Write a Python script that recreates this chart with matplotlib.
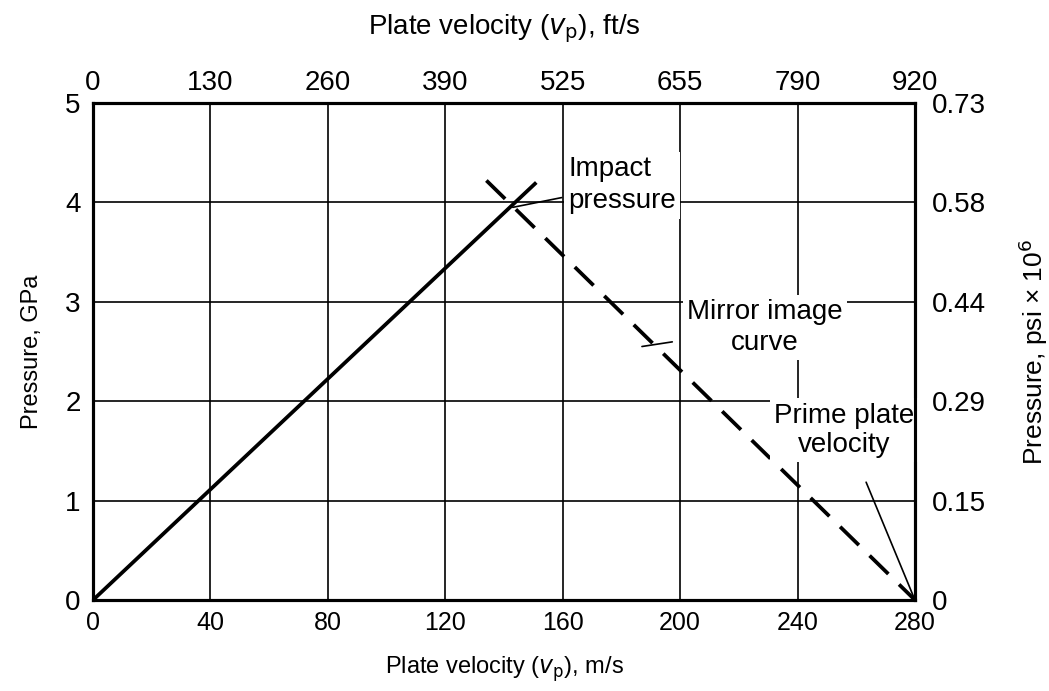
import matplotlib.pyplot as plt

plt.rcParams['font.family'] = ['Liberation Sans', 'DejaVu Sans']

# Axis ticks (bottom m/s, top ft/s, left GPa, right psi x 10^6)
x_ticks = [0, 40, 80, 120, 160, 200, 240, 280]
top_labels = ['0', '130', '260', '390', '525', '655', '790', '920']
y_ticks = [0, 1, 2, 3, 4, 5]
right_labels = ['0', '0.15', '0.29', '0.44', '0.58', '0.73']

# Curves
solid_x = [0, 151]
solid_y = [0, 4.2]
mirror_x = [134, 280]
mirror_y = [4.22, 0]
impact = (143, 3.95)
prime = (280, 0)

fig = plt.figure(figsize=(10.49, 6.91), dpi=100)
ax = fig.add_axes([0.0887, 0.1317, 0.7835, 0.7193])

ax.set_xlim(0, 280)
ax.set_ylim(0, 5)
ax.set_xticks(x_ticks)
ax.set_yticks(y_ticks)
ax.grid(True, color='black', linewidth=1.2)
ax.tick_params(axis='x', length=0, labelsize=18, pad=8)
ax.tick_params(axis='y', length=0, labelsize=20, pad=9)
for sp in ax.spines.values():
    sp.set_linewidth(2.2)

ax.plot(solid_x, solid_y, color='black', linewidth=2.7, solid_capstyle='butt', zorder=4)
ax.plot(mirror_x, mirror_y, color='black', linewidth=2.7, dashes=(7, 4), zorder=4)

box = dict(facecolor='white', edgecolor='none', pad=3)
ax.annotate('Impact\npressure', xy=impact, xytext=(162, 4.17), fontsize=20,
            ha='left', va='center', linespacing=1.3, bbox=box, zorder=5,
            arrowprops=dict(arrowstyle='-', color='black', lw=1.2, shrinkA=2, shrinkB=0))
ax.annotate('Mirror image\ncurve', xy=(187, 2.55), xytext=(229, 2.74), fontsize=20,
            ha='center', va='center', linespacing=1.25, bbox=box, zorder=5,
            arrowprops=dict(arrowstyle='-', color='black', lw=1.2, shrinkA=8, shrinkB=0))
ax.annotate('Prime plate\nvelocity', xy=prime, xytext=(256, 1.71), fontsize=20,
            ha='center', va='center', linespacing=1.15, bbox=box, zorder=5,
            arrowprops=dict(arrowstyle='-', color='black', lw=1.2, shrinkA=16, shrinkB=0))

ax.set_xlabel('Plate velocity ($v_{\\rm p}$), m/s', fontsize=17, labelpad=14)
ax.set_ylabel('Pressure, GPa', fontsize=17, labelpad=16)

top = ax.twiny()
top.set_xlim(ax.get_xlim())
top.set_xticks(x_ticks)
top.set_xticklabels(top_labels)
top.tick_params(length=0, labelsize=20, pad=5)
top.set_xlabel('Plate velocity ($v_{\\rm p}$), ft/s', fontsize=20, labelpad=26)

right = ax.twinx()
right.set_ylim(ax.get_ylim())
right.set_yticks(y_ticks)
right.set_yticklabels(right_labels)
right.tick_params(length=0, labelsize=20, pad=12)
right.set_ylabel('Pressure, psi × 10$^6$', fontsize=19, labelpad=22)
for a in (top, right):
    for sp in a.spines.values():
        sp.set_linewidth(2.2)

fig.savefig('out.png', dpi=100)
